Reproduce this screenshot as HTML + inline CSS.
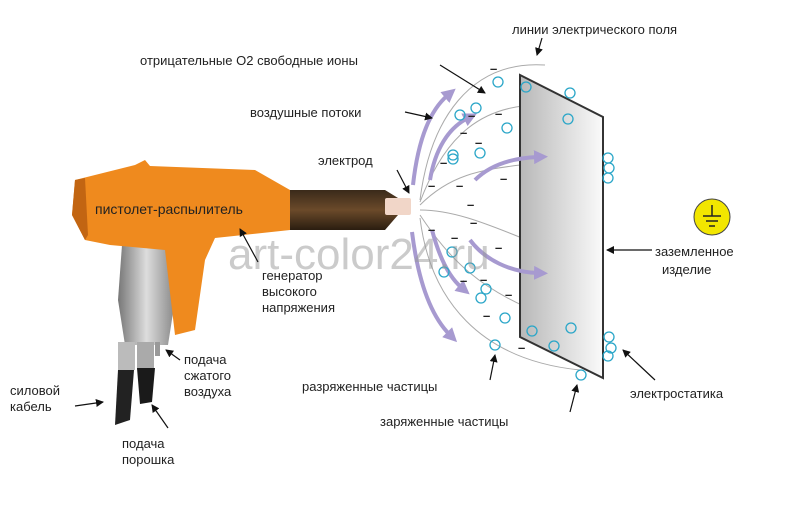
<!DOCTYPE html>
<html><head><meta charset="utf-8"><style>
body{margin:0;background:#fff}
svg text{font-family:"Liberation Sans","DejaVu Sans",sans-serif;font-size:13px;fill:#222}
</style></head><body>
<svg width="790" height="500" viewBox="0 0 790 500" xmlns="http://www.w3.org/2000/svg">
<defs>
<linearGradient id="pg" x1="0" x2="1"><stop offset="0" stop-color="#b8b8b8"/><stop offset="1" stop-color="#fafafa"/></linearGradient>
<linearGradient id="sv" x1="0" x2="1"><stop offset="0" stop-color="#777"/><stop offset=".5" stop-color="#ddd"/><stop offset="1" stop-color="#888"/></linearGradient>
<linearGradient id="br" x1="0" y1="0" x2="0" y2="1"><stop offset="0" stop-color="#3a2a1a"/><stop offset=".5" stop-color="#6b4a2a"/><stop offset="1" stop-color="#2a1d10"/></linearGradient>
<marker id="a" markerWidth="8" markerHeight="8" refX="7" refY="4" orient="auto" markerUnits="userSpaceOnUse"><path d="M0,0 L8,4 L0,8 z" fill="#111"/></marker>
<marker id="p" markerWidth="14" markerHeight="14" refX="4" refY="7" orient="auto" markerUnits="userSpaceOnUse"><path d="M0,0 L14,7 L0,14 z" fill="#a79ad0"/></marker>
</defs>
<g fill="none" stroke="#aaa" stroke-width="1">
<path d="M420,200 C430,120 470,60 545,65"/>
<path d="M420,202 C440,150 470,105 540,105"/>
<path d="M420,205 C450,175 480,170 520,165"/>
<path d="M420,210 C460,210 500,230 540,245"/>
<path d="M420,215 C450,260 480,290 545,315"/>
<path d="M420,218 C430,300 480,360 580,370"/>
</g>
<polygon points="520,75 603,117 603,378 520,337" fill="url(#pg)" stroke="#333" stroke-width="2"/>
<g fill="none" stroke="#a79ad0" stroke-width="4" marker-end="url(#p)">
<path d="M413,185 C418,140 430,110 448,95"/>
<path d="M430,180 C435,150 448,128 468,118"/>
<path d="M475,180 C490,165 512,158 538,157"/>
<path d="M432,230 C440,260 450,278 462,288"/>
<path d="M470,240 C485,260 510,272 538,273"/>
<path d="M412,232 C418,280 430,315 450,335"/>
</g>
<g fill="none" stroke="#2aa6c8" stroke-width="1.3">
<circle cx="498" cy="82" r="5"/><circle cx="460" cy="115" r="5"/><circle cx="476" cy="108" r="5"/><circle cx="507" cy="128" r="5"/>
<circle cx="453" cy="155" r="5"/><circle cx="453" cy="159" r="5"/><circle cx="480" cy="153" r="5"/><circle cx="526" cy="87" r="5"/>
<circle cx="570" cy="93" r="5"/><circle cx="568" cy="119" r="5"/><circle cx="608" cy="158" r="5"/><circle cx="609" cy="168" r="5"/><circle cx="608" cy="178" r="5"/>
<circle cx="452" cy="252" r="5"/><circle cx="444" cy="272" r="5"/><circle cx="470" cy="268" r="5"/><circle cx="486" cy="289" r="5"/><circle cx="481" cy="298" r="5"/>
<circle cx="505" cy="318" r="5"/><circle cx="495" cy="345" r="5"/><circle cx="532" cy="331" r="5"/><circle cx="554" cy="346" r="5"/><circle cx="571" cy="328" r="5"/>
<circle cx="609" cy="337" r="5"/><circle cx="611" cy="348" r="5"/><circle cx="608" cy="356" r="5"/><circle cx="581" cy="375" r="5"/>
</g>
<g font-size="13" font-weight="bold" fill="#222">
<text x="490" y="73">–</text><text x="468" y="120">–</text><text x="495" y="118">–</text><text x="460" y="137">–</text><text x="475" y="147">–</text>
<text x="440" y="167">–</text><text x="500" y="183">–</text><text x="428" y="190">–</text><text x="456" y="190">–</text><text x="467" y="209">–</text>
<text x="470" y="227">–</text><text x="428" y="234">–</text><text x="451" y="242">–</text><text x="495" y="252">–</text><text x="480" y="284">–</text>
<text x="460" y="285">–</text><text x="505" y="299">–</text><text x="483" y="320">–</text><text x="518" y="352">–</text>
</g>
<path d="M290,190 L385,190 L398,198 L398,215 L385,230 L290,230 Z" fill="url(#br)"/>
<rect x="385" y="198" width="26" height="17" fill="#f1d6c8" rx="2"/>
<path d="M122,245 L170,245 L175,300 L168,345 L125,345 L118,300 Z" fill="url(#sv)"/>
<path d="M135,165 L145,160 L150,166 L255,170 L290,190 L290,230 L215,238 L205,260 L195,330 L175,335 L165,250 L110,245 L85,240 L72,215 L75,180 Z" fill="#ef8a1e"/>
<path d="M75,180 L85,178 L88,235 L85,240 L72,215 Z" fill="#c26512"/>
<rect x="118" y="342" width="17" height="28" fill="#bbb"/><rect x="137" y="342" width="17" height="28" fill="#aaa"/><rect x="155" y="342" width="5" height="14" fill="#999"/>
<path d="M118,370 L134,370 L130,420 L115,425 Z" fill="#222"/>
<path d="M137,368 L155,368 L152,402 L140,404 Z" fill="#1a1a1a"/>
<text x="228" y="269" style="font-size:44px;fill:#999;opacity:.5">art-color24.ru</text>
<text x="512" y="34">линии  электрического  поля</text>
<text x="140" y="65">отрицательные  О2  свободные  ионы</text>
<text x="250" y="117">воздушные  потоки</text>
<text x="318" y="165">электрод</text>
<text x="95" y="214" style="font-size:14px">пистолет-распылитель</text>
<text x="262" y="280">генератор</text><text x="262" y="296">высокого</text><text x="262" y="312">напряжения</text>
<text x="655" y="256">заземленное</text><text x="662" y="274">изделие</text>
<text x="184" y="364">подача</text><text x="184" y="380">сжатого</text><text x="184" y="396">воздуха</text>
<text x="10" y="395">силовой</text><text x="10" y="411">кабель</text>
<text x="122" y="448">подача</text><text x="122" y="464">порошка</text>
<text x="302" y="391">разряженные  частицы</text>
<text x="380" y="426">заряженные  частицы</text>
<text x="630" y="398">электростатика</text>
<circle cx="712" cy="217" r="18" fill="#f2e600" stroke="#444"/>
<g stroke="#222" stroke-width="1.5"><line x1="712" y1="205" x2="712" y2="216"/><line x1="703" y1="216" x2="721" y2="216"/><line x1="706" y1="221" x2="718" y2="221"/><line x1="709" y1="226" x2="715" y2="226"/></g>
<g stroke="#111" stroke-width="1.2" marker-end="url(#a)">
<line x1="542" y1="38" x2="537" y2="55"/>
<line x1="440" y1="65" x2="485" y2="93"/>
<line x1="405" y1="112" x2="432" y2="118"/>
<line x1="397" y1="170" x2="409" y2="193"/>
<line x1="258" y1="262" x2="240" y2="229"/>
<line x1="652" y1="250" x2="607" y2="250"/>
<line x1="180" y1="360" x2="166" y2="350"/>
<line x1="75" y1="406" x2="103" y2="402"/>
<line x1="168" y1="428" x2="152" y2="405"/>
<line x1="490" y1="380" x2="495" y2="355"/>
<line x1="570" y1="412" x2="577" y2="385"/>
<line x1="655" y1="380" x2="623" y2="350"/>
</g>
</svg>
</body></html>
